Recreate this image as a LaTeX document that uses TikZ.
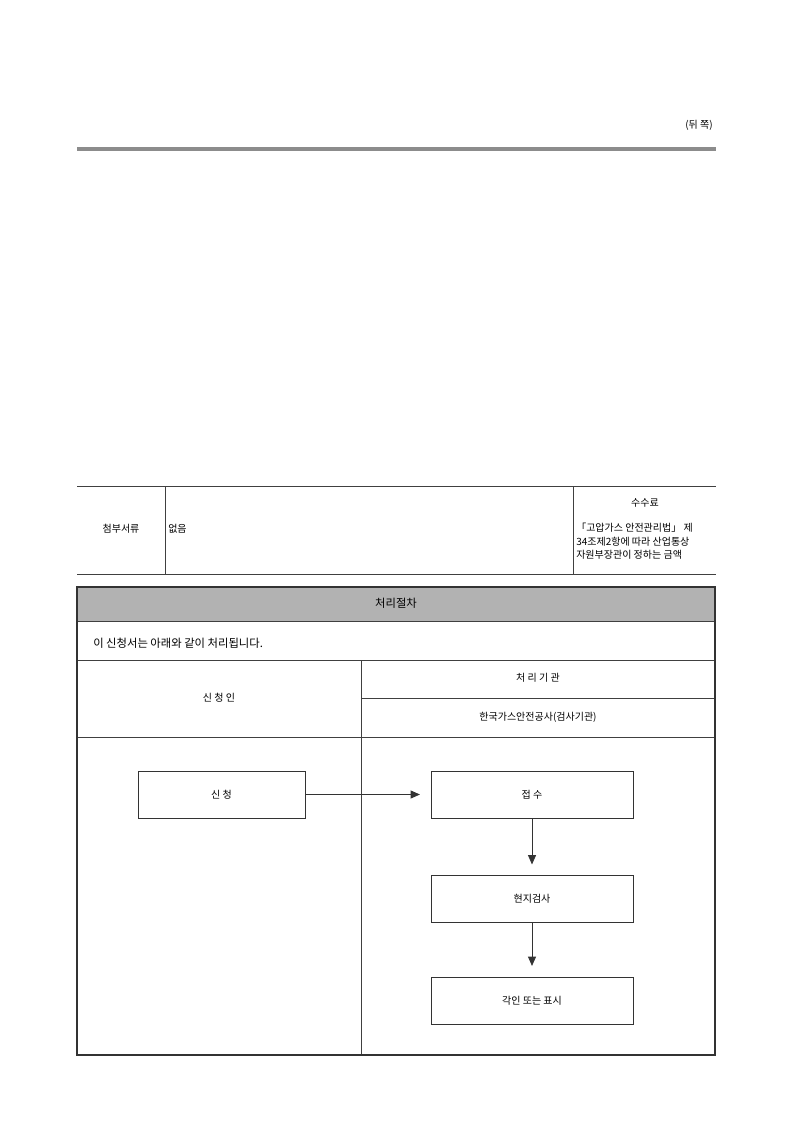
\documentclass[tikz,border=0pt]{standalone}
\usepackage{fontspec}
\setmainfont{Noto Sans CJK KR}
\usetikzlibrary{arrows.meta}
\begin{document}
\begin{tikzpicture}[x=0.75pt,y=-0.75pt,
  every node/.style={font=\fontsize{7.5}{9}\selectfont,inner sep=0pt},
  thin line/.style={draw=black!75,line width=0.6pt},
  stepbox/.style={draw=black!80,line width=0.6pt,minimum width=0.75pt*167,minimum height=0.75pt*47},
  bigbox/.style={stepbox,minimum width=0.75pt*202},
  flow/.style={draw=black!80,line width=0.6pt,-{Triangle[length=7pt,width=6pt]},shorten >=8pt}]
\useasboundingbox[fill=white] (0,0) rectangle (793,1121);
\node[anchor=east] (side) at (713,125) {(뒤 쪽)};
\draw[line width=3pt,draw=black!45] (77,149) -- (716,149);
% attachment table
\draw[thin line] (77,486) -- (716,486);
\draw[thin line] (77,574) -- (716,574);
\draw[thin line] (165,486) -- (165,574);
\draw[thin line] (573,486) -- (573,574);
\node (att) at (121,529) {첨부서류};
\node[anchor=west] (none) at (168,529) {없음};
\node (fee) at (645,503) {수수료};
\node[anchor=west] (f1) at (576,528) {「고압가스 안전관리법」 제};
\node[anchor=west] (f2) at (576,542) {34조제2항에 따라 산업통상};
\node[anchor=west] (f3) at (576,555) {자원부장관이 정하는 금액};
% process table
\fill[black!30] (77,587) rectangle (715,621);
\draw[thin line] (77,621) -- (715,621);
\draw[thin line] (77,660) -- (715,660);
\draw[thin line] (361,698) -- (715,698);
\draw[thin line] (77,737) -- (715,737);
\draw[thin line] (361,660) -- (361,1055);
\draw[draw=black!80,line width=1.2pt] (77,587) rectangle (715,1055);
\node (title) at (396,603) {\fontsize{8.5}{10}\selectfont 처리절차};
\node[anchor=west] (intro) at (93,643) {\fontsize{8.5}{10}\selectfont 이 신청서는 아래와 같이 처리됩니다.};
\node (applicant) at (219,698) {신 청 인};
\node (org) at (538,678) {처 리 기 관};
\node (kgs) at (538,717) {한국가스안전공사(검사기관)};
% flow
\node[stepbox] (apply) at (221.5,794.5) {신 청};
\node[bigbox] (receive) at (532,794.5) {접 수};
\node[bigbox] (inspect) at (532,899) {현지검사};
\node[bigbox] (mark) at (532,1000.5) {각인 또는 표시};
\draw[flow] (apply) -- (receive);
\draw[flow] (receive) -- (inspect);
\draw[flow] (inspect) -- (mark);
\end{tikzpicture}
\end{document}
